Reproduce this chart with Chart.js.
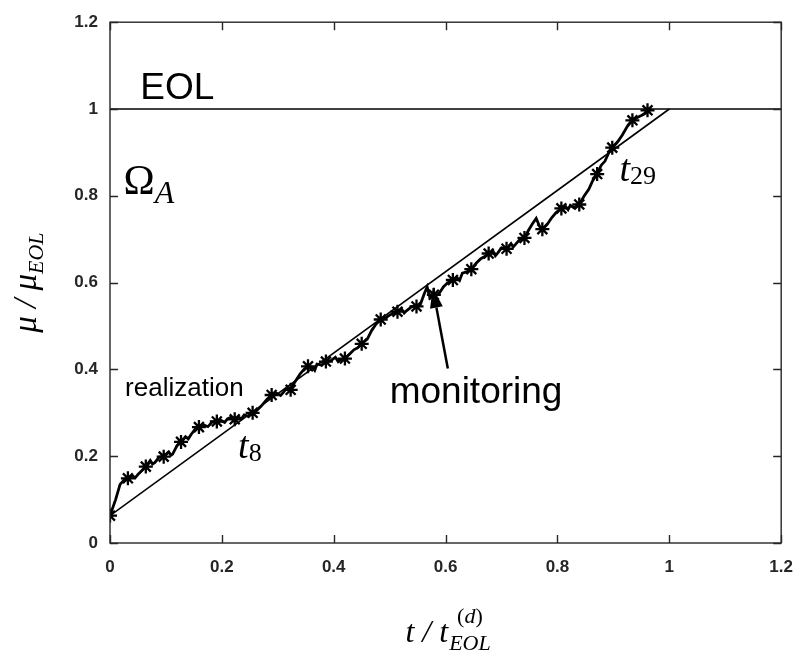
<!DOCTYPE html>
<html>
<head>
<meta charset="utf-8">
<script src="https://cdn.jsdelivr.net/npm/chart.js@4"></script>
<style>
  html, body { margin: 0; padding: 0; background: #ffffff; }
  #wrap { width: 807px; height: 663px; position: relative; }
</style>
</head>
<body>
<div id="wrap"><canvas id="c" width="807" height="663"></canvas></div>
<script>
// Axis ticks
const xTicks = [0, 0.2, 0.4, 0.6, 0.8, 1, 1.2];
const xTickLabels = ['0', '0.2', '0.4', '0.6', '0.8', '1', '1.2'];
const yTicks = [0, 0.2, 0.4, 0.6, 0.8, 1, 1.2];
const yTickLabels = ['0', '0.2', '0.4', '0.6', '0.8', '1', '1.2'];

// End-of-life threshold and the linear reference trend
const eolLevel = 1;
const trendT = [0, 1];
const trendMu = [0.063, 1];

// Degradation realization (normalised time, normalised damage)
const pathT = [
  0, 0.010, 0.018, 0.025, 0.032, 0.040, 0.045, 0.050, 0.058, 0.064, 0.072, 0.076, 0.080, 0.088,
  0.096, 0.105, 0.109, 0.112, 0.120, 0.127, 0.135, 0.140, 0.145, 0.152, 0.159, 0.168, 0.175, 0.183,
  0.191, 0.198, 0.205, 0.210, 0.215, 0.223, 0.230, 0.235, 0.240, 0.248, 0.255, 0.262, 0.270, 0.280,
  0.289, 0.298, 0.305, 0.310, 0.315, 0.323, 0.330, 0.340, 0.347, 0.354, 0.362, 0.366, 0.370, 0.378,
  0.386, 0.395, 0.403, 0.408, 0.412, 0.420, 0.428, 0.436, 0.443, 0.450, 0.460, 0.468, 0.476,
  0.484, 0.492, 0.500, 0.507, 0.514, 0.522, 0.526, 0.530, 0.540, 0.548, 0.555, 0.562, 0.567,
  0.572, 0.579, 0.588, 0.592, 0.596, 0.604, 0.613, 0.620, 0.625, 0.630, 0.638, 0.646, 0.655, 0.663,
  0.670, 0.677, 0.685, 0.689, 0.693, 0.700, 0.709, 0.717, 0.721, 0.725, 0.733, 0.741, 0.748, 0.755,
  0.762, 0.768, 0.773, 0.782, 0.790, 0.798, 0.807, 0.815, 0.819, 0.823, 0.830, 0.839, 0.848,
  0.856, 0.863, 0.871, 0.878, 0.885, 0.892, 0.898, 0.908, 0.916, 0.925, 0.934, 0.942,
  0.950, 0.957, 0.961, 0.968
];
const pathMu = [
  0.063, 0.100, 0.135, 0.145, 0.149, 0.155, 0.150, 0.158, 0.168, 0.176, 0.190, 0.182, 0.185, 0.198,
  0.199, 0.210, 0.202, 0.205, 0.225, 0.233, 0.245, 0.240, 0.250, 0.262, 0.267, 0.272, 0.268, 0.279,
  0.280, 0.283, 0.278, 0.286, 0.289, 0.285, 0.290, 0.286, 0.295, 0.292, 0.300, 0.305, 0.315, 0.330,
  0.341, 0.345, 0.340, 0.347, 0.355, 0.353, 0.370, 0.390, 0.400, 0.407, 0.405, 0.398, 0.412, 0.410,
  0.418, 0.420, 0.428, 0.418, 0.422, 0.425, 0.435, 0.445, 0.450, 0.459, 0.470, 0.490, 0.505,
  0.515, 0.518, 0.525, 0.530, 0.533, 0.538, 0.530, 0.535, 0.545, 0.545, 0.550, 0.575, 0.590,
  0.565, 0.572, 0.575, 0.582, 0.590, 0.600, 0.606, 0.612, 0.605, 0.622, 0.625, 0.631, 0.645, 0.655,
  0.660, 0.667, 0.672, 0.662, 0.668, 0.680, 0.678, 0.690, 0.682, 0.688, 0.700, 0.703, 0.720, 0.735,
  0.748, 0.730, 0.723, 0.735, 0.750, 0.762, 0.771, 0.775, 0.768, 0.778, 0.772, 0.780, 0.800,
  0.815, 0.835, 0.850, 0.870, 0.880, 0.900, 0.911, 0.925, 0.940, 0.960, 0.974, 0.980,
  0.985, 0.990, 0.997, 1.000
];

// Monitoring instants t_0 ... t_30
const monT = [
  0, 0.032, 0.064, 0.096, 0.127, 0.159, 0.191, 0.223, 0.255, 0.289, 0.323,
  0.354, 0.386, 0.420, 0.450, 0.484, 0.514, 0.548, 0.579, 0.613, 0.646,
  0.677, 0.709, 0.741, 0.773, 0.807, 0.839, 0.871, 0.898, 0.934, 0.961
];
const monMu = [
  0.063, 0.149, 0.176, 0.199, 0.233, 0.267, 0.280, 0.285, 0.300, 0.341, 0.353,
  0.407, 0.418, 0.425, 0.459, 0.515, 0.533, 0.545, 0.572, 0.606, 0.631,
  0.667, 0.678, 0.703, 0.723, 0.771, 0.780, 0.850, 0.911, 0.974, 0.997
];

const toXY = (xs, ys) => xs.map((x, i) => ({ x: x, y: ys[i] }));

const INK = '#000000';
const AXIS = '#262626';
const SANS = '"Liberation Sans", Arial, sans-serif';
const SERIF = '"Liberation Serif", "DejaVu Serif", serif';

// Frame, inward ticks, annotations and axis titles
const decor = {
  id: 'decor',
  afterDatasetsDraw(chart) {
    const { ctx, chartArea: a, scales: { x, y } } = chart;
    ctx.save();
    ctx.strokeStyle = AXIS;
    ctx.lineWidth = 1.4;
    ctx.strokeRect(a.left, a.top, a.right - a.left, a.bottom - a.top);
    const tl = 8;
    ctx.beginPath();
    xTicks.forEach(v => {
      const px = Math.round(x.getPixelForValue(v)) + 0.5;
      ctx.moveTo(px, a.bottom); ctx.lineTo(px, a.bottom - tl);
      ctx.moveTo(px, a.top); ctx.lineTo(px, a.top + tl);
    });
    yTicks.forEach(v => {
      const py = Math.round(y.getPixelForValue(v)) + 0.5;
      ctx.moveTo(a.left, py); ctx.lineTo(a.left + tl, py);
      ctx.moveTo(a.right, py); ctx.lineTo(a.right - tl, py);
    });
    ctx.stroke();

    ctx.fillStyle = INK;
    ctx.textBaseline = 'alphabetic';
    ctx.textAlign = 'left';

    // plain labels
    ctx.font = '37px ' + SANS;
    ctx.fillText('EOL', x.getPixelForValue(0.054), y.getPixelForValue(1.024));
    ctx.fillText('monitoring', x.getPixelForValue(0.5), y.getPixelForValue(0.323));
    ctx.font = '26px ' + SANS;
    ctx.fillText('realization', x.getPixelForValue(0.027), y.getPixelForValue(0.339));

    // math-style labels
    const sub = (main, mainFont, s, sFont, px, py, drop) => {
      ctx.font = mainFont;
      ctx.fillText(main, px, py);
      const w = ctx.measureText(main).width;
      ctx.font = sFont;
      ctx.fillText(s, px + w, py + drop);
    };
    sub('\u03A9', '42px ' + SERIF, 'A', 'italic 32px ' + SERIF,
        x.getPixelForValue(0.024), y.getPixelForValue(0.805), 9);
    sub('t', 'italic 38px ' + SERIF, '8', '26px ' + SERIF,
        x.getPixelForValue(0.229), y.getPixelForValue(0.188) - 3, 3);
    sub('t', 'italic 38px ' + SERIF, '29', '26px ' + SERIF,
        x.getPixelForValue(0.911), y.getPixelForValue(0.827) - 3, 3);

    // arrow pointing at the monitoring jump
    const tipX = x.getPixelForValue(0.577), tipY = y.getPixelForValue(0.588);
    const tailX = x.getPixelForValue(0.604), tailY = y.getPixelForValue(0.402);
    const ang = Math.atan2(tipY - tailY, tipX - tailX);
    const hl = 20, hw = 6.5;
    const bx = tipX - hl * Math.cos(ang), by = tipY - hl * Math.sin(ang);
    ctx.strokeStyle = INK;
    ctx.lineWidth = 2.5;
    ctx.beginPath();
    ctx.moveTo(tailX, tailY); ctx.lineTo(bx, by);
    ctx.stroke();
    ctx.beginPath();
    ctx.moveTo(tipX, tipY);
    ctx.lineTo(bx + hw * Math.sin(ang), by - hw * Math.cos(ang));
    ctx.lineTo(bx - hw * Math.sin(ang), by + hw * Math.cos(ang));
    ctx.closePath();
    ctx.fill();

    // y-axis title: mu / mu_EOL
    ctx.save();
    ctx.translate(36, (a.top + a.bottom) / 2);
    ctx.rotate(-Math.PI / 2);
    ctx.font = 'italic 33px ' + SERIF;
    const yMain = '\u03BC / \u03BC';
    const w1 = ctx.measureText(yMain).width;
    ctx.font = 'italic 22px ' + SERIF;
    const w2 = ctx.measureText('EOL').width;
    const sx = -(w1 + w2) / 2;
    ctx.font = 'italic 33px ' + SERIF;
    ctx.fillText(yMain, sx, 0);
    ctx.font = 'italic 22px ' + SERIF;
    ctx.fillText('EOL', sx + w1, 7);
    ctx.restore();

    // x-axis title: t / t_EOL^(d)
    const cx = (a.left + a.right) / 2 + 2;
    const by0 = 642;
    ctx.font = 'italic 32px ' + SERIF;
    const xm = 't / t';
    const xw = ctx.measureText(xm).width;
    ctx.font = 'italic 22px ' + SERIF;
    const ew = ctx.measureText('EOL').width;
    ctx.font = '22px ' + SERIF;
    const dw = ctx.measureText('(d)').width;
    const total = xw + Math.max(ew, dw);
    const x0 = cx - total / 2;
    ctx.font = 'italic 32px ' + SERIF;
    ctx.fillText(xm, x0, by0);
    ctx.font = 'italic 22px ' + SERIF;
    ctx.fillText('EOL', x0 + xw + 1, by0 + 8);
    const sx0 = x0 + xw + (ew - dw) / 2 + 1;
    ctx.font = '22px ' + SERIF;
    ctx.fillText('(', sx0, by0 - 19);
    const pw = ctx.measureText('(').width;
    ctx.font = 'italic 22px ' + SERIF;
    ctx.fillText('d', sx0 + pw, by0 - 19);
    const dww = ctx.measureText('d').width;
    ctx.font = '22px ' + SERIF;
    ctx.fillText(')', sx0 + pw + dww, by0 - 19);
    ctx.restore();
  }
};

const bg = {
  id: 'bg',
  beforeDraw(chart) {
    const { ctx, width, height } = chart;
    ctx.save();
    ctx.fillStyle = '#ffffff';
    ctx.fillRect(0, 0, width, height);
    ctx.restore();
  }
};

new Chart(document.getElementById('c'), {
  type: 'scatter',
  data: {
    datasets: [
      {
        label: 'EOL',
        data: [{ x: 0, y: eolLevel }, { x: 1.2, y: eolLevel }],
        showLine: true, borderColor: INK, borderWidth: 1.6,
        pointRadius: 0, fill: false
      },
      {
        label: 'trend',
        data: toXY(trendT, trendMu),
        showLine: true, borderColor: INK, borderWidth: 1.6,
        pointRadius: 0, fill: false
      },
      {
        label: 'realization',
        data: toXY(pathT, pathMu),
        showLine: true, borderColor: INK, borderWidth: 2.8,
        pointRadius: 0, fill: false, tension: 0
      },
      {
        label: 'monitoring',
        data: toXY(monT, monMu),
        showLine: false, pointStyle: 'star', pointRadius: 7,
        pointBorderColor: INK, pointBorderWidth: 2.3, pointBackgroundColor: INK
      }
    ]
  },
  options: {
    responsive: false,
    animation: false,
    layout: { padding: { top: 12, right: 25, left: 0, bottom: 0 } },
    plugins: { legend: { display: false }, tooltip: { enabled: false } },
    scales: {
      x: {
        type: 'linear', min: 0, max: 1.2,
        grid: { display: false, drawTicks: false },
        border: { display: false },
        afterBuildTicks: s => { s.ticks = xTicks.map(v => ({ value: v })); },
        afterFit: s => { s.height = 120; },
        ticks: {
          padding: 14, color: AXIS,
          font: { family: SANS, size: 17, weight: 'bold' },
          callback: (v) => xTickLabels[xTicks.indexOf(v)]
        }
      },
      y: {
        type: 'linear', min: 0, max: 1.2,
        grid: { display: false, drawTicks: false },
        border: { display: false },
        afterBuildTicks: s => { s.ticks = yTicks.map(v => ({ value: v })); },
        afterFit: s => { s.width = 110; },
        ticks: {
          padding: 12, color: AXIS,
          font: { family: SANS, size: 17, weight: 'bold' },
          callback: (v) => yTickLabels[yTicks.indexOf(v)]
        }
      }
    }
  },
  plugins: [bg, decor]
});
</script>
</body>
</html>
